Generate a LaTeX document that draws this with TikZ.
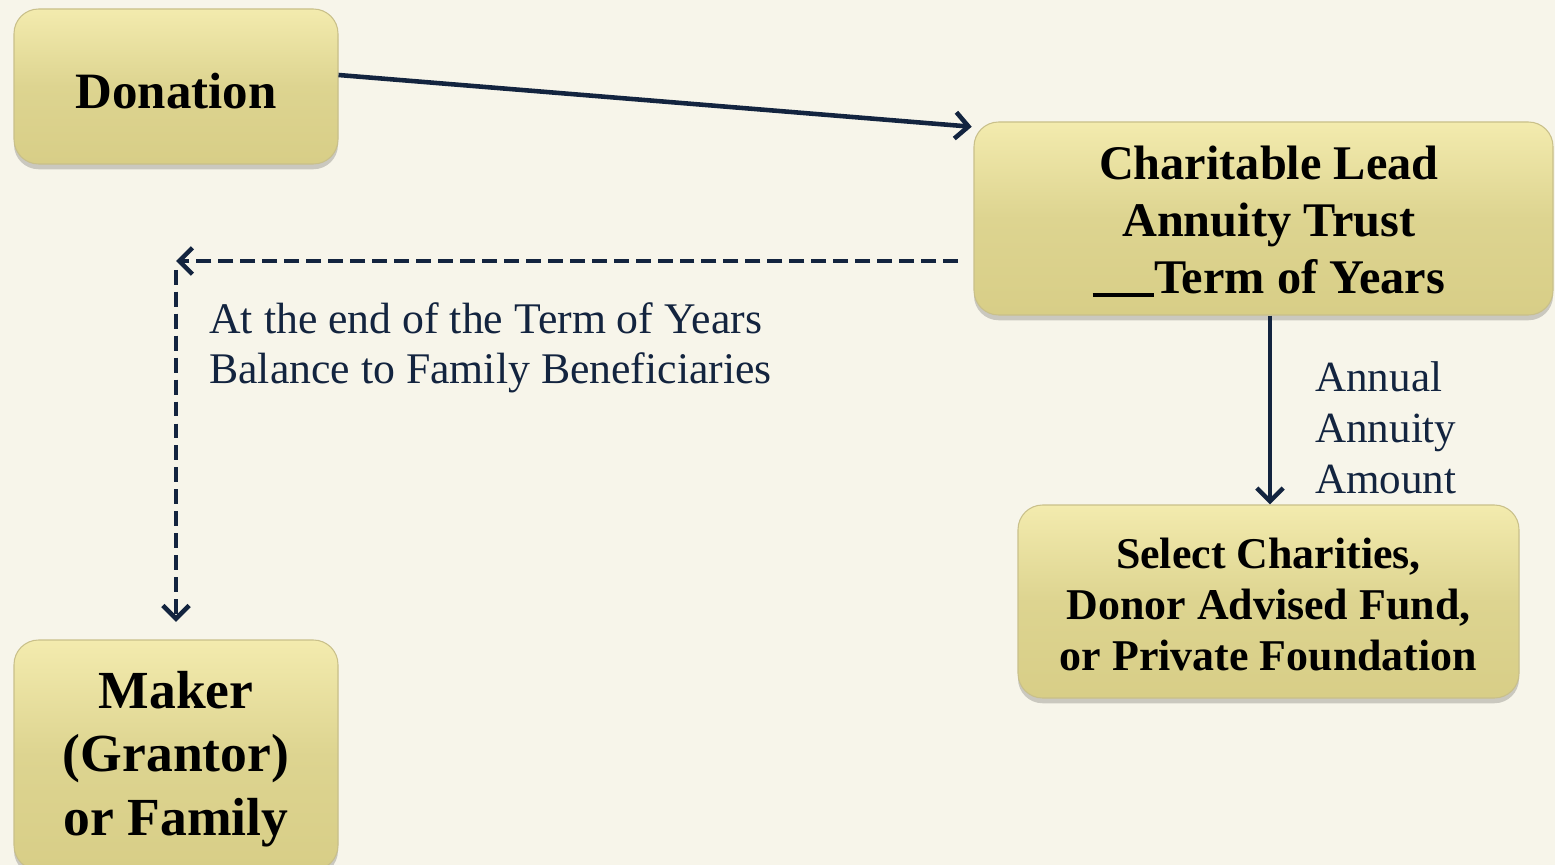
\documentclass[tikz,border=0pt]{standalone}
\usepackage{fontspec}
\setmainfont{Liberation Serif}
\usetikzlibrary{arrows.meta,shadows,calc}
\definecolor{bgc}{HTML}{F7F5EA}
\definecolor{navy}{HTML}{13243F}
\definecolor{boxtop}{HTML}{F3EBAE}
\definecolor{boxmid}{HTML}{DDD490}
\definecolor{boxbot}{HTML}{D8CE87}
\definecolor{boxline}{HTML}{C9C08A}
\tikzset{
  khaki/.style={draw=boxline, line width=0.6pt, rounded corners=14pt,
    top color=boxtop, bottom color=boxbot, middle color=boxmid,
    drop shadow={shadow xshift=0pt, shadow yshift=-3pt, opacity=0.18, fill=black},
    inner sep=0pt},
  boxtext/.style={align=center, text=black, inner sep=0pt},
  solidarrow/.style={draw=navy, line width=2.6pt, -{Straight Barb[length=7.5pt,width=15pt]}},
  dasharrow/.style={draw=navy, line width=2.6pt, dash pattern=on 8.5pt off 4pt, -{Straight Barb[length=7.5pt,width=15pt]}},
  lbl/.style={text=navy, align=left, anchor=west, inner sep=0pt}
}
\begin{document}
\begin{tikzpicture}[x=0.02cm,y=-0.02cm]
\fill[bgc] (0,0) rectangle (1555,865);
\useasboundingbox (0,0) rectangle (1555,865);

\node[khaki, minimum width=324*0.02cm, minimum height=155*0.02cm,
  label={[boxtext, yshift=-2.8pt, font=\bfseries\fontsize{29}{34}\selectfont]center:Donation}] (don) at (176,86.5) {};

\node[khaki, minimum width=579*0.02cm, minimum height=193*0.02cm,
  label={[boxtext, xshift=3pt, yshift=-1.7pt, font=\bfseries\fontsize{27.5}{32.3}\selectfont]center:{Charitable Lead\\Annuity Trust\\\rule[-2pt]{1.27em}{2pt}Term of Years}}] (clat) at (1263.5,218.5) {};

\node[khaki, minimum width=501*0.02cm, minimum height=193*0.02cm,
  label={[boxtext, yshift=-1.7pt, font=\bfseries\fontsize{25}{28.9}\selectfont]center:{Select Charities,\\Donor Advised Fund,\\or Private Foundation}}] (sel) at (1268.5,601.5) {};

\node[khaki, minimum width=324*0.02cm, minimum height=230*0.02cm,
  label={[boxtext, yshift=-2.3pt, font=\bfseries\fontsize{30.5}{36.3}\selectfont]center:{Maker\\(Grantor)\\or Family}}] (mak) at (176,755) {};

\coordinate (corner) at (176,261);
\coordinate (dstart) at (958,261);

\draw[solidarrow] (don.east |- 0,75) -- ([xshift=-1pt,yshift=-3pt]clat.north west);
\draw[dasharrow] (dstart) -- (corner);
\draw[dasharrow] ([yshift=-5pt]corner) -- ([yshift=10pt]mak.north);
\draw[solidarrow] (clat.south -| 1270,0) -- (sel.north -| 1270,0);

\node[lbl, font=\fontsize{24.9}{28.4}\selectfont] (endlbl) at (209,348) {At the end of the Term of Years\\Balance to Family Beneficiaries};
\node[lbl, font=\fontsize{24.5}{29}\selectfont] (annlbl) at (1315,428) {Annual\\Annuity\\Amount};
\end{tikzpicture}
\end{document}
